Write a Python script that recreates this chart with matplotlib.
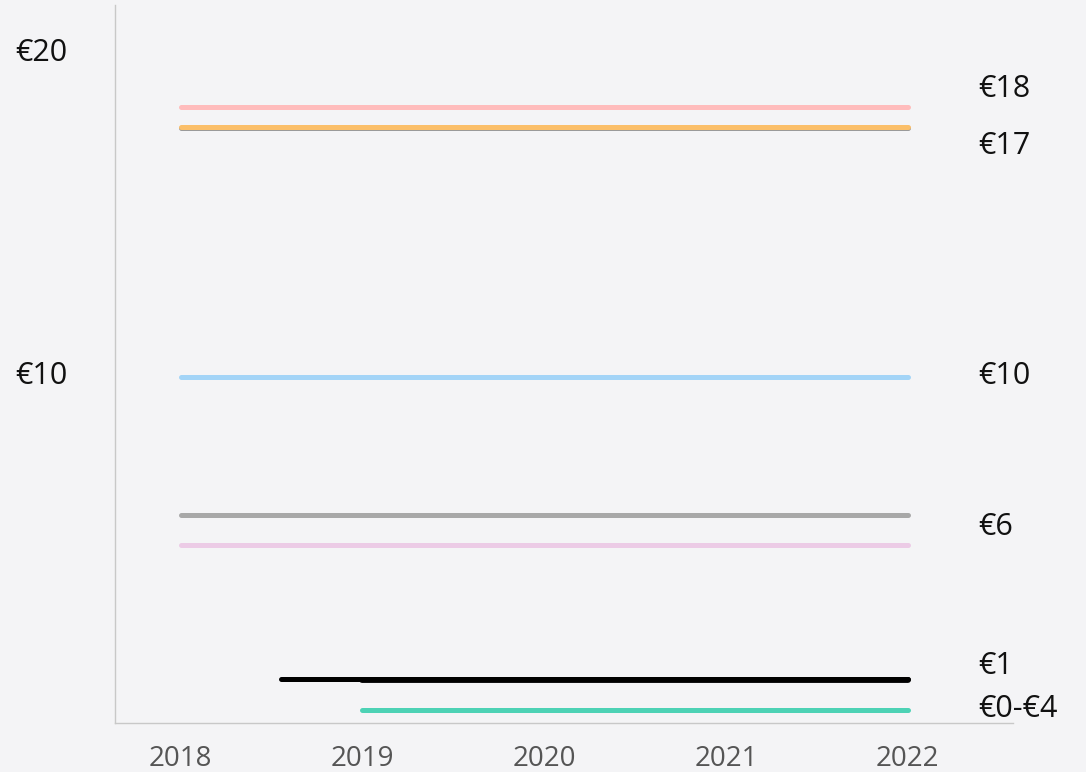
import matplotlib.pyplot as plt
import matplotlib.transforms as mtransforms

# series: (start year, end year, value, colour)
starts = [2018, 2018, 2018, 2018, 2018, 2018.55, 2019]
ends = [2022, 2022, 2022, 2022, 2022, 2022, 2022]
values = [18.1, 17.5, 10.0, 5.85, 4.95, 0.93, 0.0]
colors = ['#ffbcbc', '#fbbf6a', '#a3d4f7', '#a8a8a8', '#eccbe6', '#000000', '#4dd2b5']

label_texts = ['€18', '€17', '€10', '€6', '€1', '€0-€4']
label_y = [18.64, 16.93, 10.02, 5.49, 1.31, 0.02]

years = [2018, 2019, 2020, 2021, 2022]
ytick_labels = ['€20', '€10']
ytick_y = [19.72, 10.02]

bg = '#f4f4f6'
plt.rcParams['font.family'] = ['Open Sans', 'DejaVu Sans']

fig = plt.figure(figsize=(10.86, 7.72), dpi=100, facecolor=bg)
ax = fig.add_axes([0.106, 0.0635, 0.827, 0.93])
ax.set_facecolor(bg)

# faint grey line under the orange one, and black segment from 2019
ax.plot([2018, 2022], [17.47, 17.47], color='#9a9a9a', lw=3.6, solid_capstyle='round')
for x0, x1, v, c in zip(starts, ends, values, colors):
    ax.plot([x0, x1], [v, v], color=c, lw=3.6, solid_capstyle='round')
ax.plot([2019, 2022], [0.9, 0.9], color='#000000', lw=4.2, solid_capstyle='round')

for t, y in zip(label_texts, label_y):
    ax.text(2022.39, y, t, fontsize=22, va='center', ha='left', color='#111111', clip_on=False)

# y labels drawn as text, left aligned
trans = mtransforms.blended_transform_factory(ax.transAxes, ax.transData)
for t, y in zip(ytick_labels, ytick_y):
    ax.text(-0.111, y, t, fontsize=22, va='center', ha='left', color='#111111',
            transform=trans, clip_on=False)

ax.set_xlim(2017.64, 2022.58)
ax.set_ylim(-0.39, 21.17)
ax.set_xticks(years)
ax.set_xticklabels([str(y) for y in years], fontsize=20, color='#555555')
ax.set_yticks([])
ax.tick_params(length=0, pad=16)

for s in ['top', 'right']:
    ax.spines[s].set_visible(False)
for s in ['left', 'bottom']:
    ax.spines[s].set_color('#c8c8c8')
    ax.spines[s].set_linewidth(1)

fig.savefig('out.png', dpi=100, facecolor=bg)
